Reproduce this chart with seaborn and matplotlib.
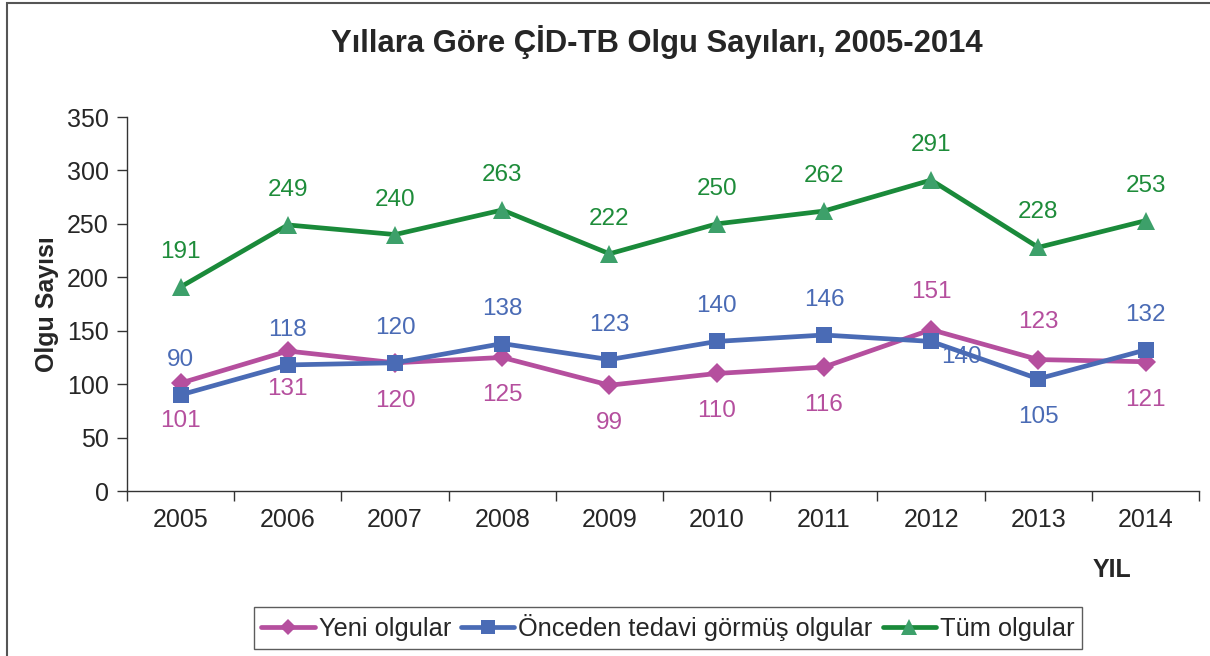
import matplotlib
matplotlib.use("Agg")
import matplotlib.pyplot as plt
import seaborn as sns
import pandas as pd
from matplotlib.patches import Rectangle
from matplotlib.lines import Line2D

years = ["2005", "2006", "2007", "2008", "2009", "2010", "2011", "2012", "2013", "2014"]
yeni = [101, 131, 120, 125, 99, 110, 116, 151, 123, 121]
onceden = [90, 118, 120, 138, 123, 140, 146, 140, 105, 132]
tum = [191, 249, 240, 263, 222, 250, 262, 291, 228, 253]
series_names = ["Yeni olgular", "Önceden tedavi görmüş olgular", "Tüm olgular"]
yticks = [0, 50, 100, 150, 200, 250, 300, 350]

line_colors = ["#B54F9E", "#4A6BB5", "#1A8A3A"]
marker_colors = ["#B54F9E", "#4A6BB5", "#3DA06A"]
label_colors = ["#B54F9E", "#4A6BB5", "#1E8C3A"]
markers = ["D", "s", "^"]
msizes = [10, 12, 13]

sns.set_theme(style="white")
plt.rcParams["font.family"] = ["Liberation Sans", "DejaVu Sans"]

rows = []
for name, vals in zip(series_names, [yeni, onceden, tum]):
    for i, v in enumerate(vals):
        rows.append({"x": i, "value": v, "series": name})
df = pd.DataFrame(rows)

FS = 18

fig = plt.figure(figsize=(12.10, 6.56), dpi=100)
ax = fig.add_axes([0.105, 0.2515, 0.886, 0.5701])

for k, name in enumerate(series_names):
    sub = df[df["series"] == name]
    sns.lineplot(data=sub, x="x", y="value", ax=ax, color=line_colors[k],
                 linewidth=3.4, marker=markers[k], markersize=msizes[k],
                 markerfacecolor=marker_colors[k], markeredgecolor=marker_colors[k],
                 markeredgewidth=0, legend=False)

ax.set_xlim(-0.5, len(years) - 0.5)
ax.set_ylim(0, 350)
ax.set_yticks(yticks)
ax.set_yticklabels([str(t) for t in yticks], fontsize=FS)
ax.set_xticks([i - 0.5 for i in range(len(years) + 1)])
ax.set_xticklabels([])
ax.set_xticks(range(len(years)), minor=True)
ax.set_xticklabels(years, minor=True, fontsize=FS)
ax.tick_params(axis="x", which="major", direction="out", length=7, width=1, color="#333333", bottom=True)
ax.tick_params(axis="x", which="minor", length=0, pad=12)
ax.tick_params(axis="y", direction="out", length=7, width=1, color="#333333", left=True, pad=6)
for s in ["top", "right"]:
    ax.spines[s].set_visible(False)
for s in ["left", "bottom"]:
    ax.spines[s].set_color("#333333")
    ax.spines[s].set_linewidth(1)
ax.set_xlabel("")
ax.set_ylabel("Olgu Sayısı", fontsize=FS, fontweight="bold", labelpad=6)

# data labels
def put(i, v, k, dx, dy, ha="center"):
    ax.annotate(str(v), (i, v), xytext=(dx, dy), textcoords="offset pixels",
                ha=ha, va="center", fontsize=FS - 0.5, color=label_colors[k])

for i, v in enumerate(tum):
    put(i, v, 2, 0, 35)
for i, v in enumerate(onceden):
    if years[i] == "2012":
        put(i, v, 1, 10, -16, ha="left")
    elif years[i] == "2013":
        put(i, v, 1, 0, -38)
    else:
        put(i, v, 1, 0, 35)
for i, v in enumerate(yeni):
    if years[i] in ("2012", "2013"):
        put(i, v, 0, 0, 38)
    else:
        put(i, v, 0, 0, -38)

fig.text(0.543, 0.936, "Yıllara Göre ÇİD-TB Olgu Sayıları, 2005-2014",
         ha="center", va="center", fontsize=22.3, fontweight="bold")
fig.text(0.919, 0.131, "YIL", ha="center", va="center", fontsize=FS, fontweight="bold")

handles = [Line2D([0], [0], color=line_colors[k], lw=3.4, marker=markers[k],
                  markersize=msizes[k] - 2, markerfacecolor=marker_colors[k],
                  markeredgewidth=0) for k in range(3)]
leg = fig.legend(handles, series_names, loc="center", bbox_to_anchor=(0.552, 0.043),
                 ncol=3, fontsize=18.3, frameon=True, fancybox=False,
                 handlelength=2.1, handletextpad=0.15, columnspacing=0.4,
                 borderpad=0.3, edgecolor="#333333")
leg.get_frame().set_linewidth(1)

fig.patches.append(Rectangle((7 / 1210, -0.1), 1.2, 1.1 - 3 / 656, transform=fig.transFigure,
                             fill=False, edgecolor="#555555", linewidth=1.5))

fig.savefig("out.png", dpi=100)
